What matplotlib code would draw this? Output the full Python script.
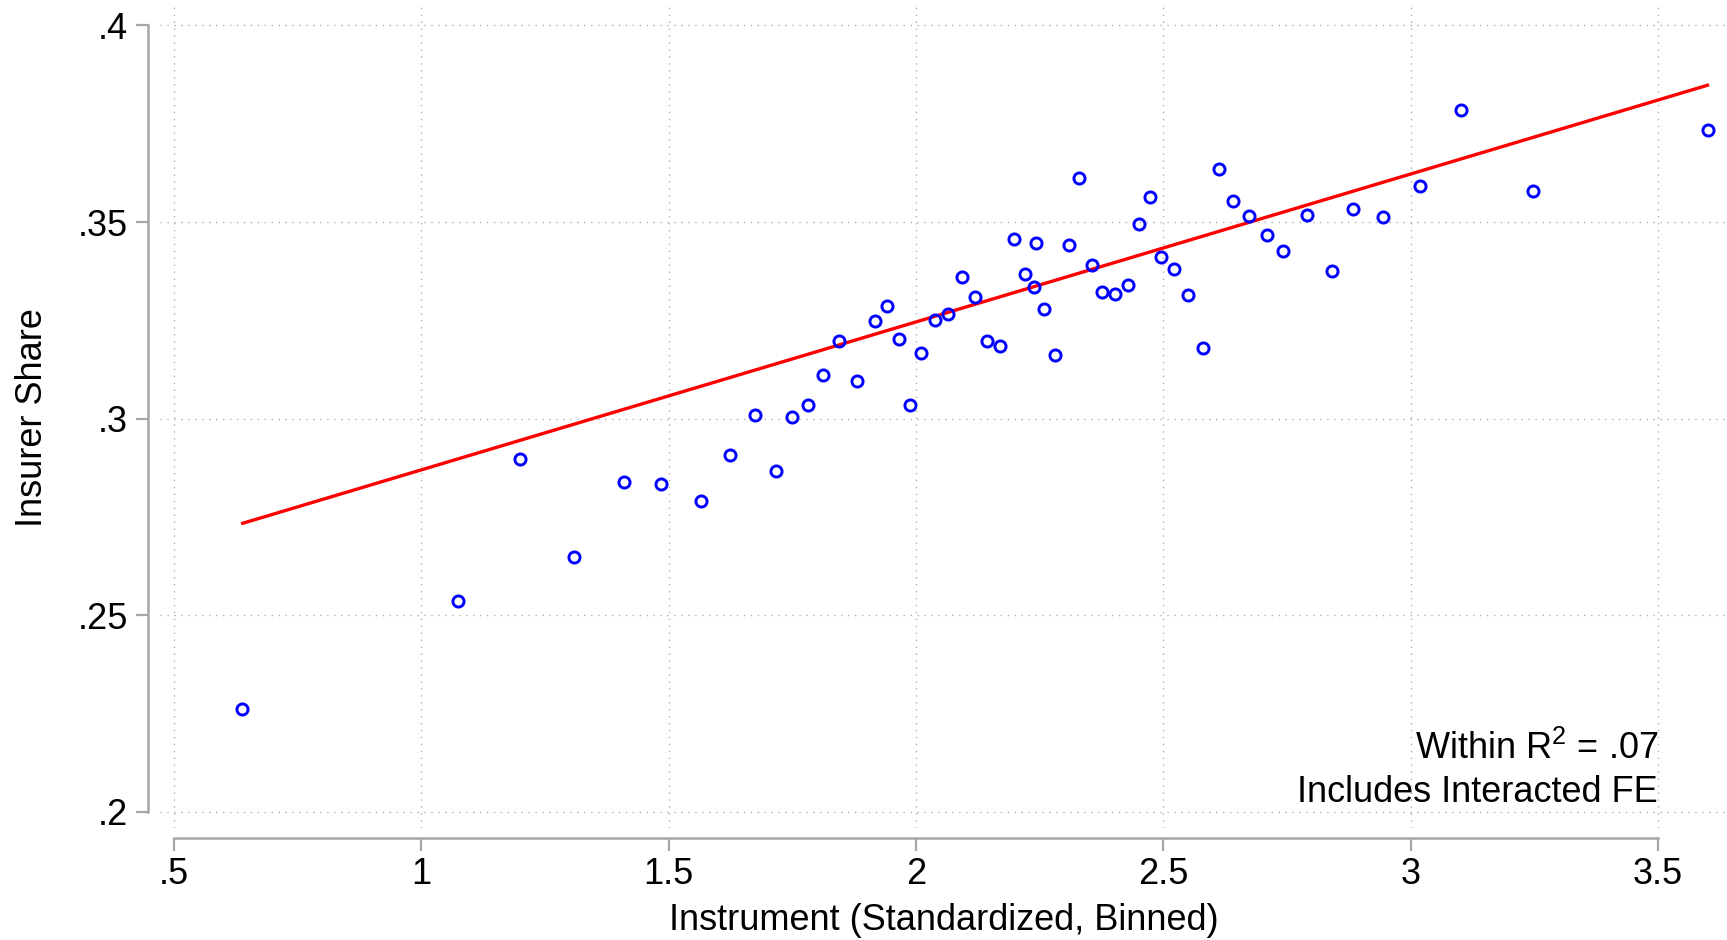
import matplotlib
matplotlib.use('Agg')
import matplotlib.pyplot as plt
import numpy as np

plt.rcParams['font.family'] = ['Liberation Sans', 'DejaVu Sans']
plt.rcParams['mathtext.fontset'] = 'custom'
plt.rcParams['mathtext.rm'] = 'Liberation Sans'
plt.rcParams['mathtext.it'] = 'Liberation Sans'

# binned scatter values
bin_x = [0.638, 1.075, 1.199, 1.308, 1.410, 1.484, 1.565, 1.624, 1.675, 1.716,
         1.750, 1.781, 1.811, 1.845, 1.881, 1.917, 1.942, 1.965, 1.988, 2.011,
         2.038, 2.064, 2.093, 2.119, 2.143, 2.170, 2.199, 2.221, 2.239, 2.242,
         2.259, 2.281, 2.309, 2.330, 2.355, 2.377, 2.403, 2.428, 2.451, 2.473,
         2.496, 2.521, 2.550, 2.581, 2.613, 2.640, 2.674, 2.709, 2.742, 2.791,
         2.841, 2.883, 2.945, 3.018, 3.101, 3.248, 3.602]
bin_y = [0.2261, 0.2537, 0.2898, 0.2647, 0.2840, 0.2833, 0.2791, 0.2908, 0.3009, 0.2867,
         0.3005, 0.3035, 0.3110, 0.3198, 0.3096, 0.3249, 0.3287, 0.3203, 0.3035, 0.3167,
         0.3251, 0.3266, 0.3360, 0.3310, 0.3197, 0.3184, 0.3458, 0.3369, 0.3335, 0.3448,
         0.3280, 0.3162, 0.3442, 0.3613, 0.3392, 0.3322, 0.3316, 0.3341, 0.3495, 0.3565,
         0.3411, 0.3381, 0.3314, 0.3179, 0.3636, 0.3553, 0.3515, 0.3468, 0.3426, 0.3518,
         0.3375, 0.3534, 0.3514, 0.3593, 0.3786, 0.3580, 0.3734]

# fitted line end points
fit_x = [0.639, 3.600]
fit_y = [0.2734, 0.3848]

x_ticks = [0.5, 1, 1.5, 2, 2.5, 3, 3.5]
x_labels = ['.5', '1', '1.5', '2', '2.5', '3', '3.5']
y_ticks = [0.2, 0.25, 0.3, 0.35, 0.4]
y_labels = ['.2', '.25', '.3', '.35', '.4']

W, H = 1727, 940
fig = plt.figure(figsize=(W / 100, H / 100), dpi=100)
# axes box in pixels: left 160, right 1727, top 7, bottom 828
ax = fig.add_axes([160 / W, 1 - 828 / H, (1727 - 160) / W, (828 - 7) / H])

ax.set_xlim(0.4717, 3.6395)
ax.set_ylim(0.1959, 0.4047)

grey = '#a6a6a6'
ax.grid(True, linestyle=(0, (1, 4)), color='#b0b0b0', linewidth=1.0)
ax.set_axisbelow(True)

ax.plot(fit_x, fit_y, color='#ff0000', linewidth=2.4, zorder=3)
ax.plot(bin_x, bin_y, linestyle='none', marker='o', markersize=8,
        markerfacecolor='none', markeredgecolor='#0000ff', markeredgewidth=2.1,
        zorder=4)

ax.set_xticks(x_ticks)
ax.set_xticklabels(x_labels)
ax.set_yticks(y_ticks)
ax.set_yticklabels(y_labels)

for side in ['top', 'right']:
    ax.spines[side].set_visible(False)
ax.spines['left'].set_position(('outward', 9))
ax.spines['bottom'].set_position(('outward', 7))
ax.spines['left'].set_bounds(0.2, 0.4)
ax.spines['bottom'].set_bounds(0.5, 3.5)
for side in ['left', 'bottom']:
    ax.spines[side].set_color(grey)
    ax.spines[side].set_linewidth(1.8)

ax.tick_params(axis='both', colors=grey, width=1.6, length=9, labelsize=26,
               labelcolor='black')
ax.tick_params(axis='x', pad=5)
ax.tick_params(axis='y', pad=5)

ax.set_xlabel('Instrument (Standardized, Binned)', fontsize=26, labelpad=8)
ax.set_ylabel('Insurer Share', fontsize=26, labelpad=20)

ax.text(3.5, 0.216, 'Within R$^2$ = .07', ha='right', va='center', fontsize=26)
ax.text(3.5, 0.205, 'Includes Interacted FE', ha='right', va='center', fontsize=26)

fig.savefig('out.png', dpi=100)
